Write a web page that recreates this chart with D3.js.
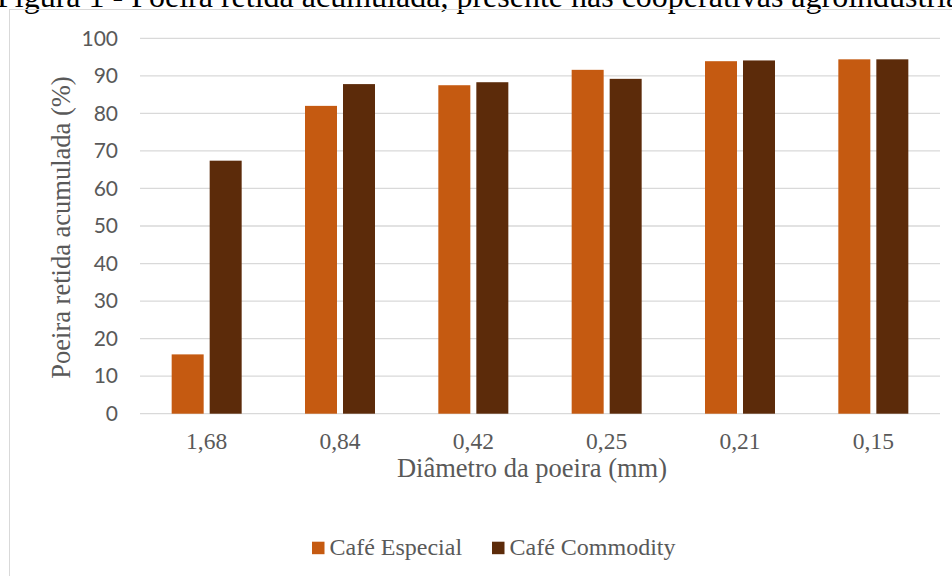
<!DOCTYPE html>
<html>
<head>
<meta charset="utf-8">
<script src="https://cdn.jsdelivr.net/npm/d3@7"></script>
<style>
  body { margin: 0; background: #fff; }
  svg { display: block; }
</style>
</head>
<body>
<div id="chart"></div>
<script>
// Chart data
const categories = ["1,68", "0,84", "0,42", "0,25", "0,21", "0,15"];
const seriesNames = ["Café Especial", "Café Commodity"];
const especial = [15.8, 82.0, 87.5, 91.6, 93.9, 94.4];
const commodity = [67.4, 87.8, 88.3, 89.2, 94.1, 94.4];
const yTicks = [0, 10, 20, 30, 40, 50, 60, 70, 80, 90, 100];

const colors = ["#C55A11", "#5C2B0A"];
const serif = "'Liberation Serif', 'Times New Roman', serif";
const sans = "Lato, 'Liberation Sans', sans-serif";

const width = 952;
const height = 576;
const marginTop = 38.3;
const marginLeft = 140;
const marginRight = 12;
const plotBottom = 413.7;

const svg = d3.select("#chart").append("svg")
    .attr("width", width)
    .attr("height", height);

// Caption, cut off at the top of the picture
svg.append("text")
    .attr("x", -3)
    .attr("y", 7)
    .attr("font-family", serif)
    .attr("font-size", 32)
    .attr("fill", "#000")
    .text("Figura 1 - Poeira retida acumulada, presente nas cooperativas agroindustriais");

// Chart area border
svg.append("rect")
    .attr("x", 9.5)
    .attr("y", 9.5)
    .attr("width", 960)
    .attr("height", 600)
    .attr("fill", "none")
    .attr("stroke", "#d9d9d9")
    .attr("stroke-width", 1);

const x = d3.scaleBand()
    .domain(categories)
    .range([marginLeft, width - marginRight]);

const y = d3.scaleLinear()
    .domain([0, 100])
    .range([plotBottom, marginTop]);

// Gridlines
svg.append("g")
    .selectAll("line")
    .data(yTicks)
    .join("line")
    .attr("x1", marginLeft)
    .attr("x2", width - marginRight)
    .attr("y1", d => y(d))
    .attr("y2", d => y(d))
    .attr("stroke", "#d9d9d9")
    .attr("stroke-width", 1.3);

// Y axis labels
const gy = svg.append("g")
    .attr("transform", `translate(118,0)`)
    .call(d3.axisLeft(y).tickValues(yTicks).tickSize(0).tickPadding(0));
gy.select(".domain").remove();
gy.selectAll("text")
    .attr("font-family", sans)
    .attr("font-size", 21)
    .attr("fill", "#595959");

// X axis labels
const gx = svg.append("g")
    .attr("transform", `translate(0,${plotBottom})`)
    .call(d3.axisBottom(x).tickSize(0).tickPadding(0));
gx.select(".domain").remove();
gx.selectAll("text")
    .attr("dy", null)
    .attr("y", 35.5)
    .attr("font-family", serif)
    .attr("font-size", 23.5)
    .attr("fill", "#595959");

// Bars
const barW = 32;
const gap = 6;
const series = [especial, commodity];
series.forEach((vals, s) => {
    svg.append("g")
        .selectAll("rect")
        .data(vals)
        .join("rect")
        .attr("x", (d, i) => x(categories[i]) + x.bandwidth() / 2 - barW - gap / 2 + s * (barW + gap))
        .attr("y", d => y(d))
        .attr("width", barW)
        .attr("height", d => y(0) - y(d))
        .attr("fill", colors[s]);
});

// Axis titles
svg.append("text")
    .attr("x", 532)
    .attr("y", 477)
    .attr("text-anchor", "middle")
    .attr("font-family", serif)
    .attr("font-size", 26.5)
    .attr("fill", "#595959")
    .text("Diâmetro da poeira (mm)");

svg.append("text")
    .attr("transform", "rotate(-90)")
    .attr("x", -227.5)
    .attr("y", 70)
    .attr("text-anchor", "middle")
    .attr("font-family", serif)
    .attr("font-size", 26.5)
    .attr("fill", "#595959")
    .text("Poeira retida acumulada (%)");

// Legend
const legendX = [312, 492];
seriesNames.forEach((name, i) => {
    svg.append("rect")
        .attr("x", legendX[i])
        .attr("y", 541.7)
        .attr("width", 12.5)
        .attr("height", 12.5)
        .attr("fill", colors[i]);
    svg.append("text")
        .attr("x", legendX[i] + 17.5)
        .attr("y", 555)
        .attr("font-family", serif)
        .attr("font-size", 24)
        .attr("fill", "#595959")
        .text(name);
});
</script>
</body>
</html>
